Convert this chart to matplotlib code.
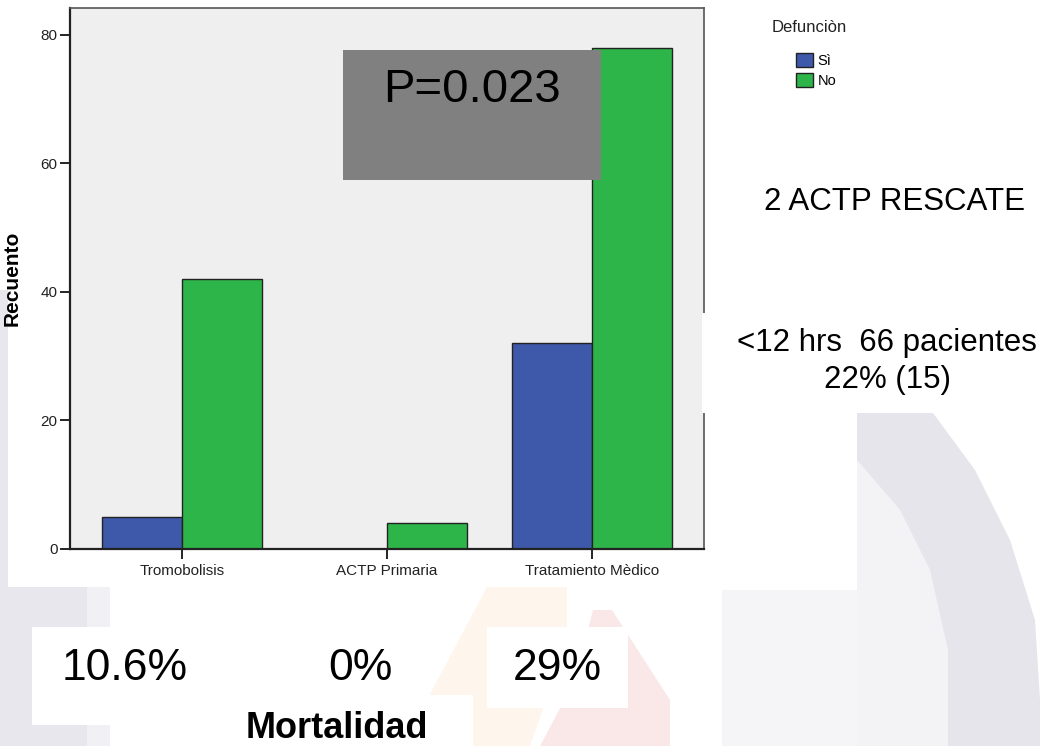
import numpy as np
import matplotlib
matplotlib.use('Agg')
import matplotlib.pyplot as plt
from matplotlib.patches import Rectangle, Polygon

plt.rcParams['font.family'] = ['Liberation Sans', 'DejaVu Sans']

categories = ['Tromobolisis', 'ACTP Primaria', 'Tratamiento Mèdico']
si = [5, 0, 32]
no = [42, 4, 78]
mortalidad = ['10.6%', '0%', '29%']
series_names = ['Sì', 'No']
y_ticks = [0, 20, 40, 60, 80]

BLUE = '#3e58aa'
GREEN = '#2eb54a'

W, H = 1046, 746
fig = plt.figure(figsize=(W / 100, H / 100), dpi=100)

# background layer in pixel coordinates (faint logo shapes)
bg = fig.add_axes([0, 0, 1, 1], zorder=0)
bg.set_xlim(0, W)
bg.set_ylim(H, 0)
bg.axis('off')
shapes = [
    ([(0, 290), (8, 290), (8, 587), (87, 587), (87, 746), (0, 746)], '#e7e7ed'),
    ([(87, 587), (110, 587), (110, 746), (87, 746)], '#f1f1f5'),
    ([(722, 590), (948, 590), (948, 746), (722, 746)], '#f5f5f8'),
    ([(857, 460), (900, 510), (930, 570), (948, 650), (948, 746), (857, 746)], '#f3f3f6'),
    ([(857, 413), (933, 413), (975, 470), (1010, 540), (1035, 620), (1040, 700),
      (1040, 746), (948, 746), (948, 650), (930, 570), (900, 510), (857, 460)], '#e5e5eb'),
    ([(487, 587), (567, 587), (567, 640), (530, 746), (427, 746), (427, 700)], '#fef5ec'),
    ([(593, 610), (612, 610), (670, 700), (670, 746), (540, 746), (575, 680)], '#fae8e8'),
]
for pts, c in shapes:
    bg.add_patch(Polygon(pts, closed=True, facecolor=c, edgecolor='none'))
bg.add_patch(Rectangle((8, 0), 847, 587, facecolor='white', edgecolor='none'))

# main bar chart
ax = fig.add_axes([70 / W, 1 - 549 / H, 634 / W, 541 / H], zorder=1)
ax.set_facecolor('#efefef')
x = np.arange(len(categories))
bw = 0.39
b1 = ax.bar(x - bw / 2, si, bw, color=BLUE, edgecolor='#222222', linewidth=1.0, label=series_names[0])
b2 = ax.bar(x + bw / 2, no, bw, color=GREEN, edgecolor='#222222', linewidth=1.0, label=series_names[1])
ax.set_xlim(-0.546, 2.546)
ax.set_ylim(0, 84.2)
ax.set_yticks(y_ticks)
ax.set_xticks(x)
ax.set_xticklabels(categories, fontsize=11, color='#222222')
ax.tick_params(axis='y', length=7, width=1.2, pad=2, labelsize=11, labelcolor='#222222')
ax.tick_params(axis='x', length=7.5, width=1.2, pad=3)
for s in ['left', 'bottom']:
    ax.spines[s].set_linewidth(1.6)
    ax.spines[s].set_color('#222222')
for s in ['top', 'right']:
    ax.spines[s].set_linewidth(1.2)
    ax.spines[s].set_color('#555555')
ax.set_ylabel('Recuento', fontsize=15, fontweight='bold')
ax.yaxis.set_label_coords(-0.076, 0.5)

# legend
fig.text(772 / W, 1 - 28 / H, 'Defunciòn', fontsize=12, va='center', ha='left', color='#222222')
fig.legend(handles=[b1, b2], loc='upper left', bbox_to_anchor=(786 / W, 1 - 43 / H),
           frameon=False, fontsize=10.5, handlelength=1.15, handleheight=1.05,
           handletextpad=0.3, labelspacing=0.35, borderpad=0.2)

# overlay layer: annotation boxes and texts
fg = fig.add_axes([0, 0, 1, 1], zorder=2)
fg.set_xlim(0, W)
fg.set_ylim(H, 0)
fg.axis('off')
fg.add_patch(Rectangle((343, 50), 258, 130, facecolor='#808080', edgecolor='none'))
fg.text(472, 90, 'P=0.023', fontsize=34, ha='center', va='center')

fg.text(895, 202, '2 ACTP RESCATE', fontsize=22.5, ha='center', va='center')
fg.add_patch(Rectangle((702, 313), 344, 100, facecolor='white', edgecolor='none'))
fg.text(887, 343, '<12 hrs  66 pacientes', fontsize=22.5, ha='center', va='center')
fg.text(887, 380, '22% (15)', fontsize=22.5, ha='center', va='center')

fg.add_patch(Rectangle((32, 627), 186, 98, facecolor='white', edgecolor='none'))
fg.add_patch(Rectangle((290, 620), 137, 75, facecolor='white', edgecolor='none'))
fg.add_patch(Rectangle((487, 627), 141, 81, facecolor='white', edgecolor='none'))
for xc, lab in zip([125, 360, 557], mortalidad):
    fg.text(xc, 668, lab, fontsize=32, ha='center', va='center')
# the middle label box is cut short at its lower edge
fg.add_patch(Rectangle((300, 682), 120, 14, facecolor='white', edgecolor='none'))
fg.add_patch(Rectangle((200, 695), 273, 51, facecolor='white', edgecolor='none'))
fg.text(337, 728, 'Mortalidad', fontsize=26, fontweight='bold', ha='center', va='center')

fig.savefig('out.png', dpi=100)
